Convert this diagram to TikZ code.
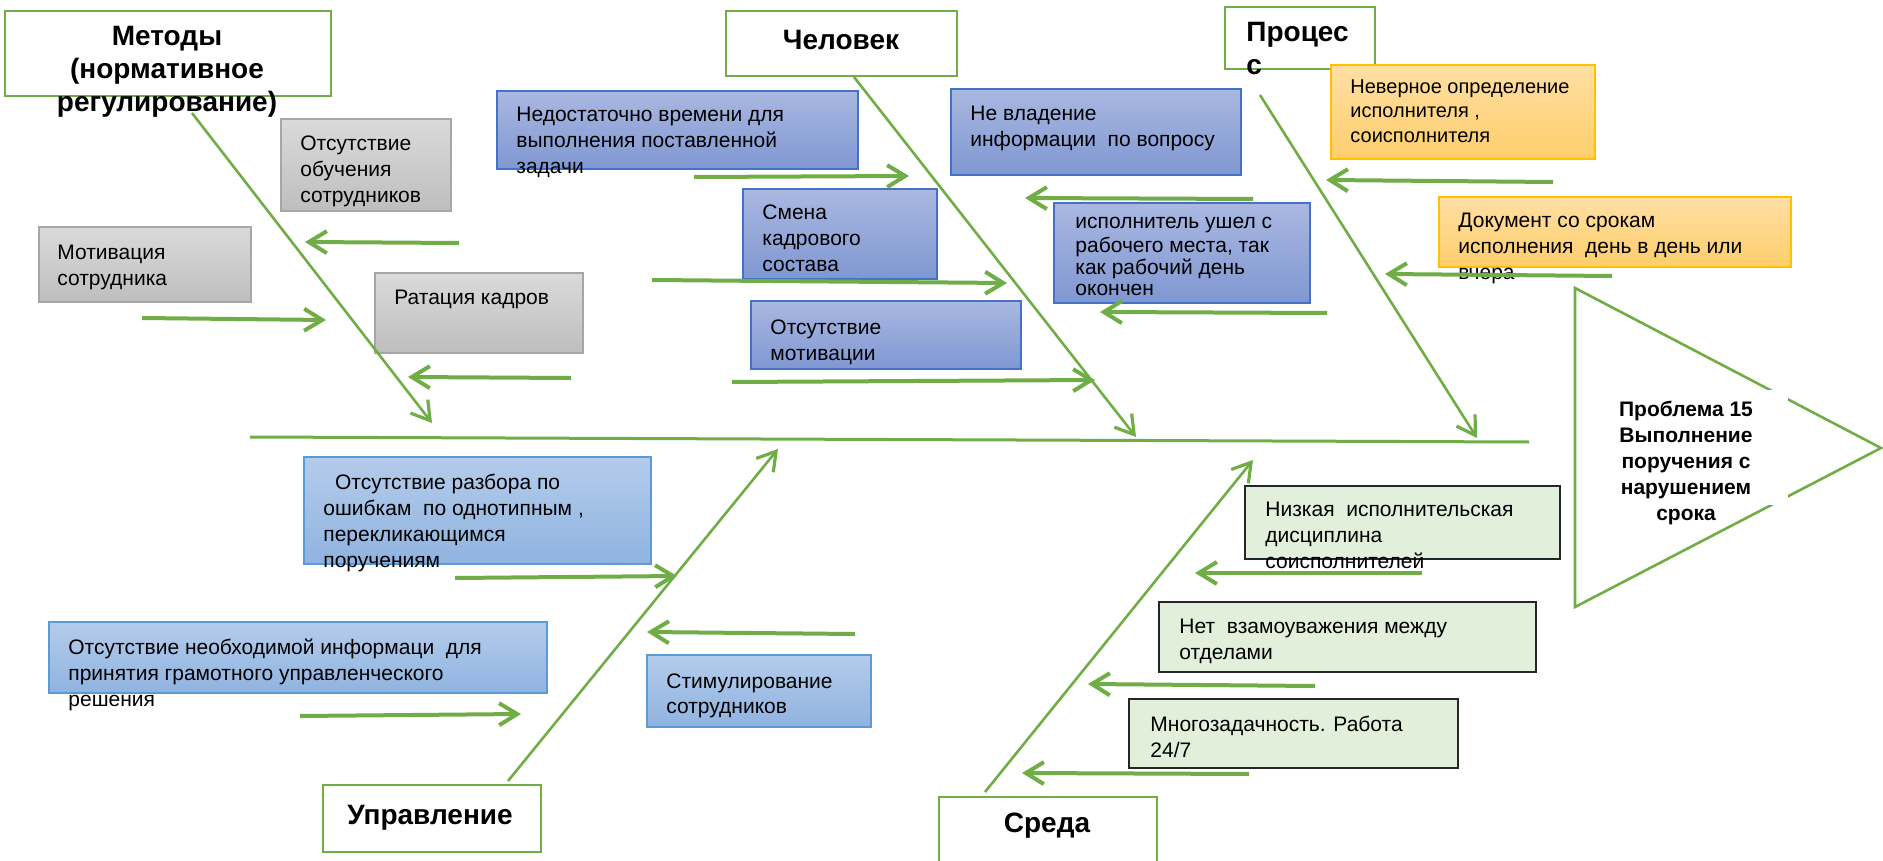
\documentclass[tikz,border=0pt]{standalone}
\usepackage{fontspec}
\setmainfont{Liberation Sans}
\usetikzlibrary{arrows.meta}
\definecolor{bone}{HTML}{70AD47}
\definecolor{grayT}{HTML}{DADADA}
\definecolor{grayB}{HTML}{BEBEBE}
\definecolor{grayL}{HTML}{A6A6A6}
\definecolor{blueT}{HTML}{AAB8E1}
\definecolor{blueB}{HTML}{7F97D2}
\definecolor{blueL}{HTML}{4472C4}
\definecolor{lbT}{HTML}{B4CCEB}
\definecolor{lbB}{HTML}{8FB3E0}
\definecolor{lbL}{HTML}{5B9BD5}
\definecolor{orT}{HTML}{FFDFA3}
\definecolor{orB}{HTML}{FFCE6C}
\definecolor{orL}{HTML}{FFC000}
\definecolor{gnF}{HTML}{E2EFDA}
\definecolor{gnL}{HTML}{262626}
\begin{document}
\begin{tikzpicture}[x=0.5pt,y=-0.5pt,
  boxbase/.style={anchor=north west, inner sep=0pt, outer sep=0pt},
  titlebox/.style={boxbase, draw=bone, line width=1.3pt, fill=white},
  graybox/.style={boxbase, draw=grayL, line width=0.8pt, top color=grayT, bottom color=grayB},
  bluebox/.style={boxbase, draw=blueL, line width=0.8pt, top color=blueT, bottom color=blueB},
  lbbox/.style={boxbase, draw=lbL, line width=0.8pt, top color=lbT, bottom color=lbB},
  orbox/.style={boxbase, draw=orL, line width=0.8pt, top color=orT, bottom color=orB},
  gnbox/.style={boxbase, draw=gnL, line width=0.8pt, fill=gnF},
  txt/.style={anchor=north west, inner sep=0pt, align=left, font=\fontsize{10.5}{13}\selectfont},
  ttl/.style={anchor=center, inner sep=0pt, align=center, font=\fontsize{14}{16.5}\selectfont\bfseries},
  arr/.style={draw=bone, line width=2pt, -{Straight Barb[length=9pt,width=11pt,line width=2pt]}},
  bonearr/.style={draw=bone, line width=1.3pt, -{Straight Barb[length=9pt,width=11pt,line width=1.6pt]}},
]
\path[use as bounding box] (0,0) rectangle (1883,861);

% ---------- title boxes ----------
\node[titlebox, minimum width=163pt, minimum height=42.5pt] (metT) at (5,11) {};
\node[titlebox, minimum width=115.5pt, minimum height=32.5pt] (chelT) at (726,11) {};
\node[titlebox, minimum width=75pt, minimum height=31pt] (procT) at (1225,7) {};
\node[titlebox, minimum width=109pt, minimum height=33.5pt] (uprT) at (323,785) {};
\node[titlebox, minimum width=109pt, minimum height=42pt] (sredT) at (939,797) {};

% ---------- cause boxes ----------
\node[graybox, minimum width=85pt, minimum height=46pt] (obuch) at (281,119) {};
\node[graybox, minimum width=106pt, minimum height=37.5pt] (motiv) at (39,227) {};
\node[graybox, minimum width=104pt, minimum height=40pt] (ratac) at (375,273) {};

\node[bluebox, minimum width=180.5pt, minimum height=39pt] (nedost) at (497,91) {};
\node[bluebox, minimum width=97pt, minimum height=45pt] (smena) at (743,189) {};
\node[bluebox, minimum width=135pt, minimum height=34pt] (otsmot) at (751,301) {};
\node[bluebox, minimum width=145pt, minimum height=43pt] (nevlad) at (951,89) {};
\node[bluebox, minimum width=128pt, minimum height=50pt] (ispoln) at (1054,203) {};

\node[orbox, minimum width=132pt, minimum height=47pt] (nevern) at (1331,65) {};
\node[orbox, minimum width=176pt, minimum height=35pt] (dokum) at (1439,197) {};

\node[lbbox, minimum width=173.5pt, minimum height=53.5pt] (razbor) at (304,457) {};
\node[lbbox, minimum width=249pt, minimum height=35.5pt] (neobh) at (49,622) {};
\node[lbbox, minimum width=112pt, minimum height=36pt] (stimul) at (647,655) {};

\node[gnbox, minimum width=157.5pt, minimum height=36.5pt] (nizk) at (1245,486) {};
\node[gnbox, minimum width=188.5pt, minimum height=35pt] (netv) at (1159,602) {};
\node[gnbox, minimum width=164.5pt, minimum height=34.5pt] (mnogo) at (1129,699) {};

% ---------- head triangle ----------
\coordinate (triA) at (1575,288);
\coordinate (triB) at (1881,448);
\coordinate (triC) at (1575,607);
\draw[bone, line width=1.3pt] (triA) -- (triB) -- (triC) -- cycle;
\node[boxbase, fill=white, minimum width=104pt, minimum height=57.5pt] (probbg) at (1580,390) {};
\node[anchor=center, inner sep=0pt, align=center, font=\fontsize{10.5}{12.9}\selectfont\bfseries] (prob) at (1686,463)
  {Проблема 15\\Выполнение\\поручения с\\нарушением\\срока};

% ---------- texts ----------
\node[ttl] (metTx) at (167,72) {Методы\\(нормативное\\регулирование)};
\node[ttl] (chelTx) at (841,40) {Человек};
\node[ttl, anchor=north west, align=left] (procTx) at (1246,22) {\hspace*{0pt}Процес\\с};
\node[ttl] (uprTx) at (430,818) {Управление};
\node[ttl] (sredTx) at (1047,826) {Среда};

\node[txt] (obuchTx) at (300,132) {\strut Отсутствие\\обучения\\сотрудников};
\node[txt] (motivTx) at (57,241) {\strut Мотивация\\сотрудника};
\node[txt] (ratacTx) at (394,286) {\strut Ратация кадров};
\node[txt] (nedostTx) at (516,103) {\strut Недостаточно времени для\\выполнения поставленной\\задачи};
\node[txt] (smenaTx) at (762,201) {\strut Смена\\кадрового\\состава};
\node[txt] (otsmotTx) at (770,316) {\strut Отсутствие\\мотивации};
\node[txt] (nevladTx) at (970,102) {\strut Не владение\\информации\ \ по вопросу};
\node[txt, font=\fontsize{10.5}{10.8}\selectfont] (ispolnTx) at (1075,213) {\strut исполнитель ушел с\\рабочего места, так\\как рабочий день\\окончен};
\node[txt, font=\fontsize{10}{12.2}\selectfont] (nevernTx) at (1350,76) {\strut Неверное определение\\исполнителя ,\\соисполнителя};
\node[txt] (dokumTx) at (1458,209) {\strut Документ со срокам\\исполнения\ \ день в день или\\вчера};
\node[txt] (razborTx) at (323,471) {\strut\ \ Отсутствие разбора по\\ошибкам\ \ по однотипным ,\\перекликающимся\\поручениям};
\node[txt] (neobhTx) at (68,636) {\strut Отсутствие необходимой информаци\ \ для\\принятия грамотного управленческого\\решения};
\node[txt, font=\fontsize{10.5}{12.6}\selectfont] (stimulTx) at (666,670) {\strut Стимулирование\\сотрудников};
\node[txt] (nizkTx) at (1265,498) {\strut Низкая\ \ исполнительская\\дисциплина\\соисполнителей};
\node[txt] (netvTx) at (1179,615) {\strut Нет\ \ взамоуважения между\\отделами};
\node[txt] (mnogoTx) at (1150,713) {\strut Многозадачность. Работа\\24/7};

% ---------- spine and bones ----------
\coordinate (spS) at (250,437);
\coordinate (spE) at (1529,442);
\draw[bone, line width=1.5pt] (spS) -- (spE);

\coordinate (b1s) at (192,113); \coordinate (b1e) at (432,423);
\coordinate (b2e) at (1136,437);
\coordinate (b3s) at (1260,95); \coordinate (b3e) at (1477,438);
\coordinate (b4e) at (778,449);
\coordinate (b5e) at (1253,460);
\draw[bonearr] (b1s) -- (b1e);
\draw[bonearr] (854,77) -- (b2e);
\draw[bonearr] (b3s) -- (b3e);
\draw[bonearr] (508,781) -- (b4e);
\draw[bonearr] (985,792) -- (b5e);

% ---------- cause arrows ----------
\coordinate (a1s) at (459,243);  \coordinate (a1e) at (305,242);
\coordinate (a2s) at (142,318);  \coordinate (a2e) at (326,320);
\coordinate (a3s) at (571,378);  \coordinate (a3e) at (408,377);
\coordinate (a4s) at (694,177);  \coordinate (a4e) at (909,176);
\coordinate (a5s) at (652,280);  \coordinate (a5e) at (1007,283);
\coordinate (a6s) at (732,382);  \coordinate (a6e) at (1095,380);
\coordinate (a7s) at (1253,199); \coordinate (a7e) at (1025,198);
\coordinate (a8s) at (1327,313); \coordinate (a8e) at (1100,312);
\coordinate (a9s) at (1553,182); \coordinate (a9e) at (1326,180);
\coordinate (a10s) at (1612,276); \coordinate (a10e) at (1385,274);
\coordinate (a11s) at (455,578); \coordinate (a11e) at (677,576);
\coordinate (a12s) at (855,634); \coordinate (a12e) at (647,632);
\coordinate (a13s) at (300,716); \coordinate (a13e) at (521,714);
\coordinate (a14s) at (1422,573); \coordinate (a14e) at (1195,573);
\coordinate (a15s) at (1315,686); \coordinate (a15e) at (1088,684);
\coordinate (a16s) at (1249,774); \coordinate (a16e) at (1022,773);
\foreach \i in {1,...,16} { \draw[arr] (a\i s) -- (a\i e); }
\end{tikzpicture}
\end{document}
